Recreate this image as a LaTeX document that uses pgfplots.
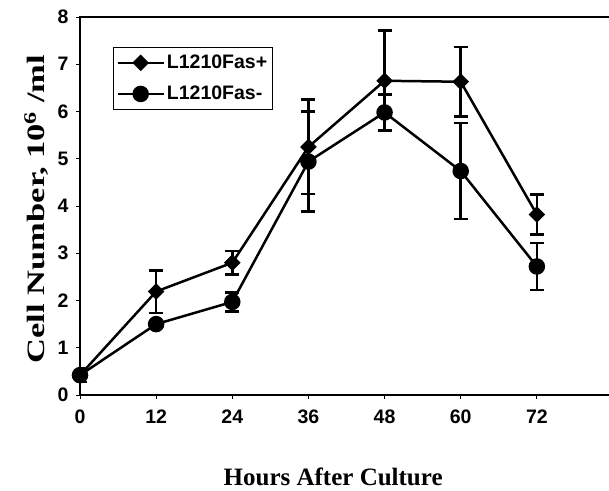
\documentclass[border=0pt]{standalone}
\usepackage{fontspec}
\setmainfont{Liberation Serif}
\newfontfamily\arialf{Liberation Sans}
\usepackage{pgfplots}
\pgfplotsset{compat=1.18}
\begin{document}
\begin{tikzpicture}[x=1pt,y=1pt]
\useasboundingbox (0,0) rectangle (609,490);
\begin{axis}[
  at={(80pt,95pt)}, anchor=south west,
  scale only axis, width=533pt, height=378pt,
  xmin=0, xmax=84, ymin=0, ymax=8,
  xtick={0,12,...,72}, ytick={0,1,...,8},
  axis line style={line width=2.8pt},
  tick style={black, line width=1pt},
  tick align=outside, major tick length=4pt,
  xtick pos=bottom, ytick pos=left,
  /pgf/number format/assume math mode=true,
  tick label style={font=\arialf\bfseries\fontsize{19.5}{19.5}\selectfont},
  xticklabel style={yshift=-7pt},
  yticklabel style={xshift=-4pt},
  xlabel={Hours After Culture},
  xlabel style={at={(axis description cs:0.475,-0.240)}, anchor=base, font=\bfseries\fontsize{25}{25}\selectfont},
  ylabel={\scalebox{1.38}[1]{Cell Number, 10\textsuperscript{6} /ml}},
  ylabel style={at={(axis description cs:-0.0657,0.492)}, anchor=base, font=\bfseries\fontsize{25}{25}\selectfont},
  legend style={at={(axis description cs:0.062,0.921)}, anchor=north west, draw=black, line width=0.8pt,
    font=\arialf\bfseries\fontsize{19.5}{19.5}\selectfont, inner xsep=3pt, inner ysep=6pt, row sep=12pt},
  legend cell align=left,
  legend image code/.code={\draw[#1,mark=none] (0pt,0pt) -- (46pt,0pt); \draw[#1] plot coordinates {(23pt,0pt)};},
  every axis plot/.append style={black, line width=2.5pt},
  error bars/y dir=both, error bars/y explicit,
  error bars/error mark options={rotate=90, mark size=7pt, line width=2.5pt, black},
  error bars/error bar style={line width=2.5pt, black},
]
\addplot[mark=square*, mark size=4.6pt, mark options={rotate=45}] coordinates {
 (0,0.42) +- (0,0.15)
 (12,2.19) +- (0,0.45)
 (24,2.80) +- (0,0.25)
 (36,5.25) +- (0,1.00)
 (48,6.65) +- (0,1.06)
 (60,6.63) +- (0,0.74)
 (72,3.82) +- (0,0.42)
};
\addlegendentry{L1210Fas+}
\addplot[mark=*, mark size=7pt] coordinates {
 (0,0.42) +- (0,0)
 (12,1.50) +- (0,0)
 (24,1.97) +- (0,0.20)
 (36,4.94) +- (0,1.06)
 (48,5.98) +- (0,0.38)
 (60,4.74) +- (0,1.02)
 (72,2.72) +- (0,0.50)
};
\addlegendentry{L1210Fas-}
\end{axis}
\end{tikzpicture}
\end{document}
